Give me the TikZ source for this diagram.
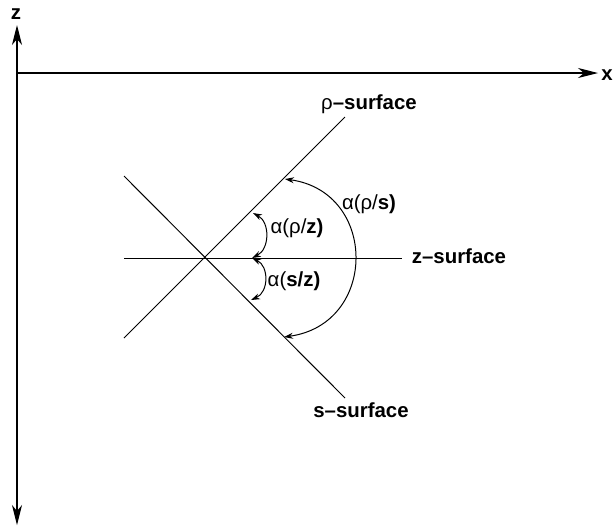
\documentclass[tikz,border=0pt]{standalone}
\usepackage{fontspec}
\setmainfont{Liberation Sans}
\usetikzlibrary{arrows.meta}
\tikzset{
  axis/.style={line width=0.55pt},
  axtip/.style={-{Stealth[length=10pt,width=5pt,inset=3pt]}},
  surf/.style={line width=0.5pt},
  angarc/.style={line width=0.5pt, {Stealth[length=4.5pt,width=3pt]}-{Stealth[length=4.5pt,width=3pt]}},
  lbl/.style={font=\fontsize{10.2}{12}\selectfont\bfseries, inner sep=1pt},
  anglbl/.style={font=\fontsize{10.2}{12}\selectfont, inner sep=1pt},
}
\begin{document}
\begin{tikzpicture}[x=0.5pt,y=-0.5pt]
  \useasboundingbox (0,0) rectangle (613,527);
  % axes
  \coordinate (O) at (17,73);
  \coordinate (zt) at (17,25);
  \coordinate (zb) at (17,525);
  \coordinate (xr) at (598,73);
  \draw[axis, {Stealth[length=10pt,width=5pt,inset=3pt]}-{Stealth[length=10pt,width=5pt,inset=3pt]}] (zb) -- (zt);
  \draw[axis, axtip] (O) -- (xr);
  \node[lbl] (zlab) at (16,14) {z};
  \node[lbl] (xlab) at (607,75) {x};
  % surfaces
  \coordinate (r0) at (124,338); \coordinate (r1) at (345,117);
  \coordinate (s0) at (124,176); \coordinate (s1) at (345,398);
  \coordinate (z0) at (124,258); \coordinate (z1) at (402,258);
  \draw[surf] (r0) -- (r1);
  \draw[surf] (s0) -- (s1);
  \draw[surf] (z0) -- (z1);
  \node[lbl] (rlab) at (369,104) {\mdseries ρ\bfseries --surface};
  \node[lbl] (zslab) at (459,256) {z--surface};
  \node[lbl] (slab) at (361,410) {s--surface};
  % angles
  \coordinate (a1) at (253,213); \coordinate (a2) at (252,258); \coordinate (a3) at (251,300);
  \coordinate (b1) at (285,179); \coordinate (b2) at (284,337);
  \draw[angarc] (a1) .. controls +(17,9) and +(18,-9) .. (a2);
  \draw[angarc] (a2) .. controls +(17,8) and +(18,-8) .. (a3);
  \draw[angarc] (b1) .. controls +(93,13) and +(94,-13) .. (b2);
  \node[anglbl] (arz) at (297,228) {α(ρ/\textbf{z)}};
  \node[anglbl] (asz) at (294,281) {α(\textbf{s/z)}};
  \node[anglbl] (ars) at (369,204) {α(ρ/\textbf{s)}};
\end{tikzpicture}
\end{document}
